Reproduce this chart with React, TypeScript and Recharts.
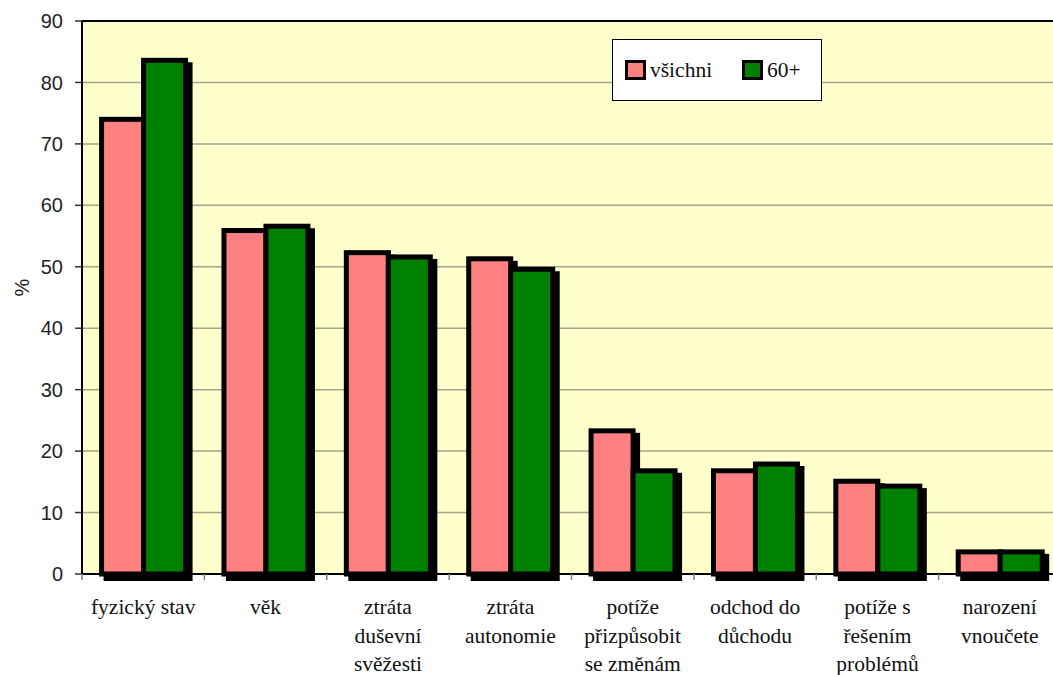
import { Bar, BarChart, CartesianGrid, ReferenceLine, XAxis, YAxis } from "recharts";

const categories = [
  "fyzický stav",
  "věk",
  "ztráta\nduševní\nsvěžesti",
  "ztráta\nautonomie",
  "potíže\npřizpůsobit\nse změnám",
  "odchod do\ndůchodu",
  "potíže s\nřešením\nproblémů",
  "narození\nvnoučete",
];
const vsichni = [74, 55.9, 52.3, 51.3, 23.3, 16.8, 15.1, 3.6];
const sedesat = [83.6, 56.6, 51.6, 49.6, 16.8, 17.9, 14.3, 3.6];
const seriesNames = ["všichni", "60+"];
const yTicks = [0, 10, 20, 30, 40, 50, 60, 70, 80, 90];

const PINK = "#FF8080";
const GREEN = "#008000";
const W = 1069;
const H = 675;
const Y_W = 82;
const PLOT_W = 979;
const SERIF = "Liberation Serif, DejaVu Serif, Times New Roman, serif";
const SANS = "Liberation Sans, Arial, sans-serif";

const data = categories.map((c, i) => ({ c, a: vsichni[i], b: sedesat[i] }));

function ShadowBar(props: any) {
  const { x, y, width, height, fill } = props;
  if (height == null || width == null) return null;
  const sw = 5;
  const off = 4.5;
  return (
    <g>
      <rect
        x={x - sw / 2 + off}
        y={y - sw / 2 + off}
        width={width + sw}
        height={height + sw}
        fill="#000"
      />
      <rect x={x} y={y} width={width} height={height} fill={fill} stroke="#000" strokeWidth={sw} />
    </g>
  );
}

function CatTick(props: any) {
  const { x, y, payload } = props;
  const band = PLOT_W / categories.length;
  const lines = String(payload.value).split("\n");
  return (
    <g>
      <line x1={x - band / 2} x2={x - band / 2} y1={y} y2={y + 6} stroke="#808080" strokeWidth={1.5} />
      <text x={x} y={y + 40} textAnchor="middle" style={{ fontFamily: SERIF, fontSize: 21.5 }} fill="#111">
        {lines.map((l, i) => (
          <tspan key={i} x={x} dy={i === 0 ? 0 : 28.5}>
            {l}
          </tspan>
        ))}
      </text>
    </g>
  );
}

export default function App() {
  const colors = [PINK, GREEN];
  return (
    <div
      style={{
        position: "fixed",
        left: 0,
        top: 0,
        width: 1053,
        height: 675,
        overflow: "hidden",
        background: "#fff",
      }}
    >
      <BarChart
        width={W}
        height={H}
        data={data}
        margin={{ top: 21, right: 8, bottom: 0, left: 0 }}
        barCategoryGap="16%"
        barGap={0}
      >
        <CartesianGrid
          vertical={false}
          fill="#FFFFCC"
          stroke="#A6A68A"
          strokeWidth={1.5}
          fillOpacity={1}
        />
        <XAxis
          dataKey="c"
          height={101}
          interval={0}
          tickSize={0}
          tickMargin={0}
          tickLine={false}
          axisLine={{ stroke: "#000", strokeWidth: 2 }}
          tick={<CatTick />}
        />
        <YAxis
          width={Y_W}
          domain={[0, 90]}
          ticks={yTicks}
          interval={0}
          tickSize={7}
          tickMargin={12}
          axisLine={{ stroke: "#000", strokeWidth: 2 }}
          tickLine={{ stroke: "#333", strokeWidth: 1.5 }}
          tick={{ fill: "#222", fontSize: 20, fontFamily: SANS }}
          label={{
            content: (p: any) => {
              const vb = p.viewBox || { x: 0, y: 21, height: 553 };
              const cx = vb.x + 22;
              const cy = vb.y + vb.height / 2 - 10;
              return (
                <text
                  x={cx}
                  y={cy}
                  transform={`rotate(-90 ${cx} ${cy})`}
                  textAnchor="middle"
                  dominantBaseline="central"
                  style={{ fontFamily: SANS, fontSize: 20 }}
                  fill="#222"
                >
                  %
                </text>
              );
            },
          }}
        />
        <ReferenceLine y={90} stroke="#000" strokeWidth={2} />
        <Bar dataKey="a" name={seriesNames[0]} fill={PINK} shape={<ShadowBar />} isAnimationActive={false} />
        <Bar dataKey="b" name={seriesNames[1]} fill={GREEN} shape={<ShadowBar />} isAnimationActive={false} />
      </BarChart>
      <div
        style={{
          position: "absolute",
          left: 612,
          top: 39,
          width: 210,
          height: 62,
          boxSizing: "border-box",
          border: "1.5px solid #000",
          background: "#fff",
          display: "flex",
          alignItems: "center",
          paddingLeft: 12,
          fontFamily: SERIF,
          fontSize: 21.5,
          color: "#111",
        }}
      >
        {seriesNames.map((n, i) => (
          <div key={n} style={{ display: "flex", alignItems: "center", marginRight: 30 }}>
            <span
              style={{
                display: "inline-block",
                width: 15,
                height: 14,
                background: colors[i],
                border: "3px solid #000",
                marginRight: 4,
              }}
            />
            <span>{n}</span>
          </div>
        ))}
      </div>
    </div>
  );
}
